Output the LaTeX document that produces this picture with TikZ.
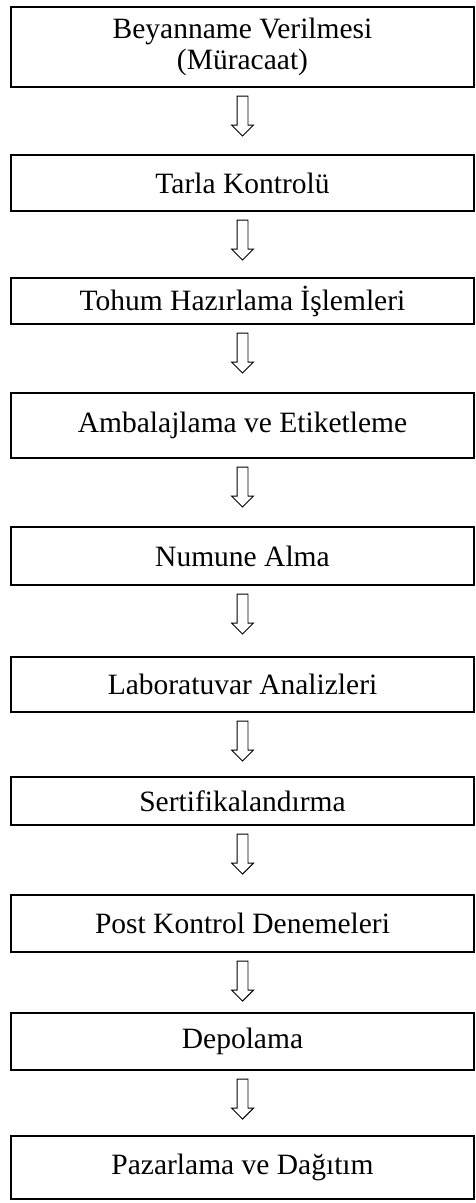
\documentclass[tikz,border=0pt]{standalone}
\usepackage{fontspec}
\setmainfont{Liberation Serif}
\usetikzlibrary{positioning}
\usetikzlibrary{shapes.arrows}

\begin{document}
\begin{tikzpicture}[x=1pt,y=1pt,inner sep=.8pt,
  stage/.style={draw,line width=1.3pt,minimum width=463pt,align=center,font=\fontsize{29.5}{31}\selectfont},
  downarr/.style={draw,single arrow,rotate=-90,anchor=tail,line width=.9pt,inner xsep=0pt,inner ysep=5pt,single arrow head extend=5.5pt,single arrow head indent=0pt,minimum height=40pt}]
\useasboundingbox (0,0) rectangle (475,-1203);
\draw node [stage,minimum height=80pt] (B1) at (242.5,-47) {Beyanname Verilmesi\\(Müracaat)};
\draw node [stage,minimum height=56pt] [below of=B1,node distance=136pt] (B2) {Tarla Kontrolü};
\draw node [stage,minimum height=46pt] [below of=B2,node distance=118pt] (B3) {Tohum Hazırlama İşlemleri};
\draw node [stage,minimum height=65pt] [below of=B3,node distance=124.5pt] (B4) {Ambalajlama ve Etiketleme};
\draw node [stage,minimum height=58pt] [below of=B4,node distance=130.5pt] (B5) {Numune Alma};
\draw node [stage,minimum height=55pt] [below of=B5,node distance=128.5pt] (B6) {Laboratuvar Analizleri};
\draw node [stage,minimum height=48pt] [below of=B6,node distance=116.5pt] (B7) {Sertifikalandırma};
\draw node [stage,minimum height=57pt] [below of=B7,node distance=122.5pt] (B8) {Post Kontrol Denemeleri};
\draw node [stage,minimum height=57pt] [below of=B8,node distance=118pt] (B9) {Depolama};
\draw node [stage,minimum height=63pt] [below of=B9,node distance=126pt] (B10) {Pazarlama ve Dağıtım};
% hollow arrows between the steps
\foreach \i in {1,...,9}
  \draw node [downarr] (A\i) at ([yshift=-8pt]B\i.south) {};
\end{tikzpicture}
\end{document}
